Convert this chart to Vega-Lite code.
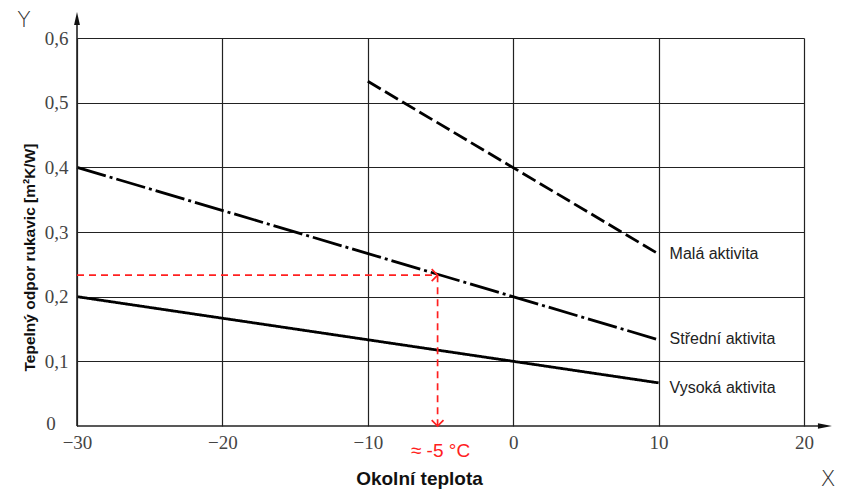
{
  "$schema": "https://vega.github.io/schema/vega-lite/v6.json",
  "width": 727,
  "height": 388,
  "autosize": "none",
  "padding": {"left": 77, "top": 38, "right": 48, "bottom": 67},
  "background": "white",
  "config": {"view": {"stroke": null}},
  "datasets": {
    "lines": [
      {"series": "Malá aktivita", "x": -10, "y": 0.533},
      {"series": "Malá aktivita", "x": 10, "y": 0.266},
      {"series": "Střední aktivita", "x": -30, "y": 0.4},
      {"series": "Střední aktivita", "x": 10, "y": 0.1333},
      {"series": "Vysoká aktivita", "x": -30, "y": 0.2},
      {"series": "Vysoká aktivita", "x": 10, "y": 0.0667}
    ],
    "labels": [
      {"label": "Malá aktivita", "x": 10, "y": 0.266},
      {"label": "Střední aktivita", "x": 10, "y": 0.1345},
      {"label": "Vysoká aktivita", "x": 10, "y": 0.059}
    ],
    "redh": [{"x": -30, "y": 0.2333}, {"x": -5.2, "y": 0.2333}],
    "redv": [{"x": -5.2, "y": 0.2333}, {"x": -5.2, "y": 0}],
    "yaxis": [{"x": -30, "y": 0}, {"x": -30, "y": 0.63}],
    "xaxis": [{"x": -30, "y": 0}, {"x": 21.5, "y": 0}],
    "letters": [
      {"t": "Y", "x": -33.65, "y": 0.628},
      {"t": "X", "x": 21.65, "y": -0.0825}
    ]
  },
  "layer": [
    {
      "data": {"name": "lines"},
      "mark": {"type": "line", "color": "black", "strokeWidth": 2.8, "clip": false},
      "encoding": {
        "x": {
          "field": "x", "type": "quantitative",
          "scale": {"domain": [-30, 20], "nice": false, "zero": false},
          "axis": {
            "values": [-30, -20, -10, 0, 10, 20],
            "grid": true, "gridColor": "#222", "gridWidth": 1.2,
            "domain": false, "ticks": false,
            "labelFont": "Liberation Sans Narrow", "labelFontSize": 19, "labelColor": "#444",
            "labelPadding": 7, "labelFlush": false,
            "title": "Okolní teplota",
            "titleFont": "Liberation Sans", "titleFontSize": 19, "titleFontWeight": "bold", "titleColor": "#111",
            "titleX": 342, "titleY": 43, "titleAlign": "center", "titleBaseline": "top"
          }
        },
        "y": {
          "field": "y", "type": "quantitative",
          "scale": {"domain": [0, 0.6], "nice": false},
          "axis": {
            "values": [0.1, 0.2, 0.3, 0.4, 0.5, 0.6],
            "labelExpr": "replace(format(datum.value, '.1f'), '.', ',')",
            "grid": true, "gridColor": "#222", "gridWidth": 1.2,
            "domain": false, "ticks": false,
            "labelFont": "Liberation Sans Narrow", "labelFontSize": 19, "labelColor": "#444",
            "labelPadding": 9, "labelFlush": false,
            "title": "Tepelný odpor rukavic [m²K/W]",
            "titleFont": "Liberation Sans", "titleFontSize": 15.5, "titleFontWeight": "bold", "titleColor": "#111",
            "titleX": -40, "titleY": 219, "titleAlign": "center", "titleAngle": -90, "titleBaseline": "bottom"
          }
        },
        "strokeDash": {
          "field": "series", "type": "nominal",
          "scale": {
            "domain": ["Malá aktivita", "Střední aktivita", "Vysoká aktivita"],
            "range": [[15, 5], [30, 4, 3, 4], [1, 0]]
          },
          "legend": null
        }
      }
    },
    {
      "data": {"values": [{"x": -30, "y": 0, "t": "0"}]},
      "mark": {"type": "text", "color": "#444", "font": "Liberation Sans Narrow", "fontSize": 19, "dx": -26, "dy": -2, "align": "center", "baseline": "middle", "clip": false},
      "encoding": {"x": {"field": "x", "type": "quantitative"}, "y": {"field": "y", "type": "quantitative"}, "text": {"field": "t"}}
    },
    {
      "data": {"name": "yaxis"},
      "mark": {"type": "line", "color": "#222", "strokeWidth": 1.6, "clip": false},
      "encoding": {"x": {"field": "x", "type": "quantitative"}, "y": {"field": "y", "type": "quantitative"}}
    },
    {
      "data": {"name": "xaxis"},
      "mark": {"type": "line", "color": "#222", "strokeWidth": 1.6, "clip": false},
      "encoding": {"x": {"field": "x", "type": "quantitative"}, "y": {"field": "y", "type": "quantitative"}}
    },
    {
      "data": {"values": [{"x": -30, "y": 0.63}]},
      "mark": {"type": "point", "shape": "M0,-1L0.45,1L-0.45,1Z", "filled": true, "color": "#111", "size": 169, "opacity": 1, "clip": false},
      "encoding": {"x": {"field": "x", "type": "quantitative"}, "y": {"field": "y", "type": "quantitative"}}
    },
    {
      "data": {"values": [{"x": 21.44, "y": 0}]},
      "mark": {"type": "point", "shape": "M1,0L-1,0.4L-1,-0.4Z", "filled": true, "color": "#111", "size": 196, "opacity": 1, "clip": false},
      "encoding": {"x": {"field": "x", "type": "quantitative"}, "y": {"field": "y", "type": "quantitative"}}
    },
    {
      "data": {"name": "redh"},
      "mark": {"type": "line", "color": "#ff2020", "strokeWidth": 1.7, "strokeDash": [7, 5], "clip": false},
      "encoding": {"x": {"field": "x", "type": "quantitative"}, "y": {"field": "y", "type": "quantitative"}}
    },
    {
      "data": {"name": "redv"},
      "mark": {"type": "line", "color": "#ff2020", "strokeWidth": 1.7, "strokeDash": [7, 5], "clip": false},
      "encoding": {"x": {"field": "x", "type": "quantitative"}, "y": {"field": "y", "type": "quantitative"}}
    },
    {
      "data": {"values": [{"x": -5.2, "y": 0.2333}]},
      "mark": {"type": "point", "shape": "M-1,-1L0,0L-1,1", "filled": false, "color": "#ff2020", "strokeWidth": 1.7, "size": 140, "opacity": 1, "clip": false},
      "encoding": {"x": {"field": "x", "type": "quantitative"}, "y": {"field": "y", "type": "quantitative"}}
    },
    {
      "data": {"values": [{"x": -5.2, "y": 0}]},
      "mark": {"type": "point", "shape": "M-1,-1L0,0L1,-1", "filled": false, "color": "#ff2020", "strokeWidth": 1.7, "size": 140, "opacity": 1, "clip": false},
      "encoding": {"x": {"field": "x", "type": "quantitative"}, "y": {"field": "y", "type": "quantitative"}}
    },
    {
      "data": {"values": [{"x": -5, "y": 0, "t": "≈ -5 °C"}]},
      "mark": {"type": "text", "color": "#ff2020", "font": "Liberation Sans", "fontSize": 19, "dy": 25, "align": "center", "baseline": "middle", "clip": false},
      "encoding": {"x": {"field": "x", "type": "quantitative"}, "y": {"field": "y", "type": "quantitative"}, "text": {"field": "t"}}
    },
    {
      "data": {"name": "labels"},
      "mark": {"type": "text", "color": "#222", "font": "Liberation Sans", "fontSize": 16, "dx": 11, "align": "left", "baseline": "middle", "clip": false},
      "encoding": {"x": {"field": "x", "type": "quantitative"}, "y": {"field": "y", "type": "quantitative"}, "text": {"field": "label"}}
    },
    {
      "data": {"name": "letters"},
      "mark": {"type": "text", "color": "#333", "font": "DejaVu Sans", "fontWeight": 200, "fontSize": 22, "align": "center", "baseline": "middle", "clip": false},
      "encoding": {"x": {"field": "x", "type": "quantitative"}, "y": {"field": "y", "type": "quantitative"}, "text": {"field": "t"}}
    }
  ]
}
